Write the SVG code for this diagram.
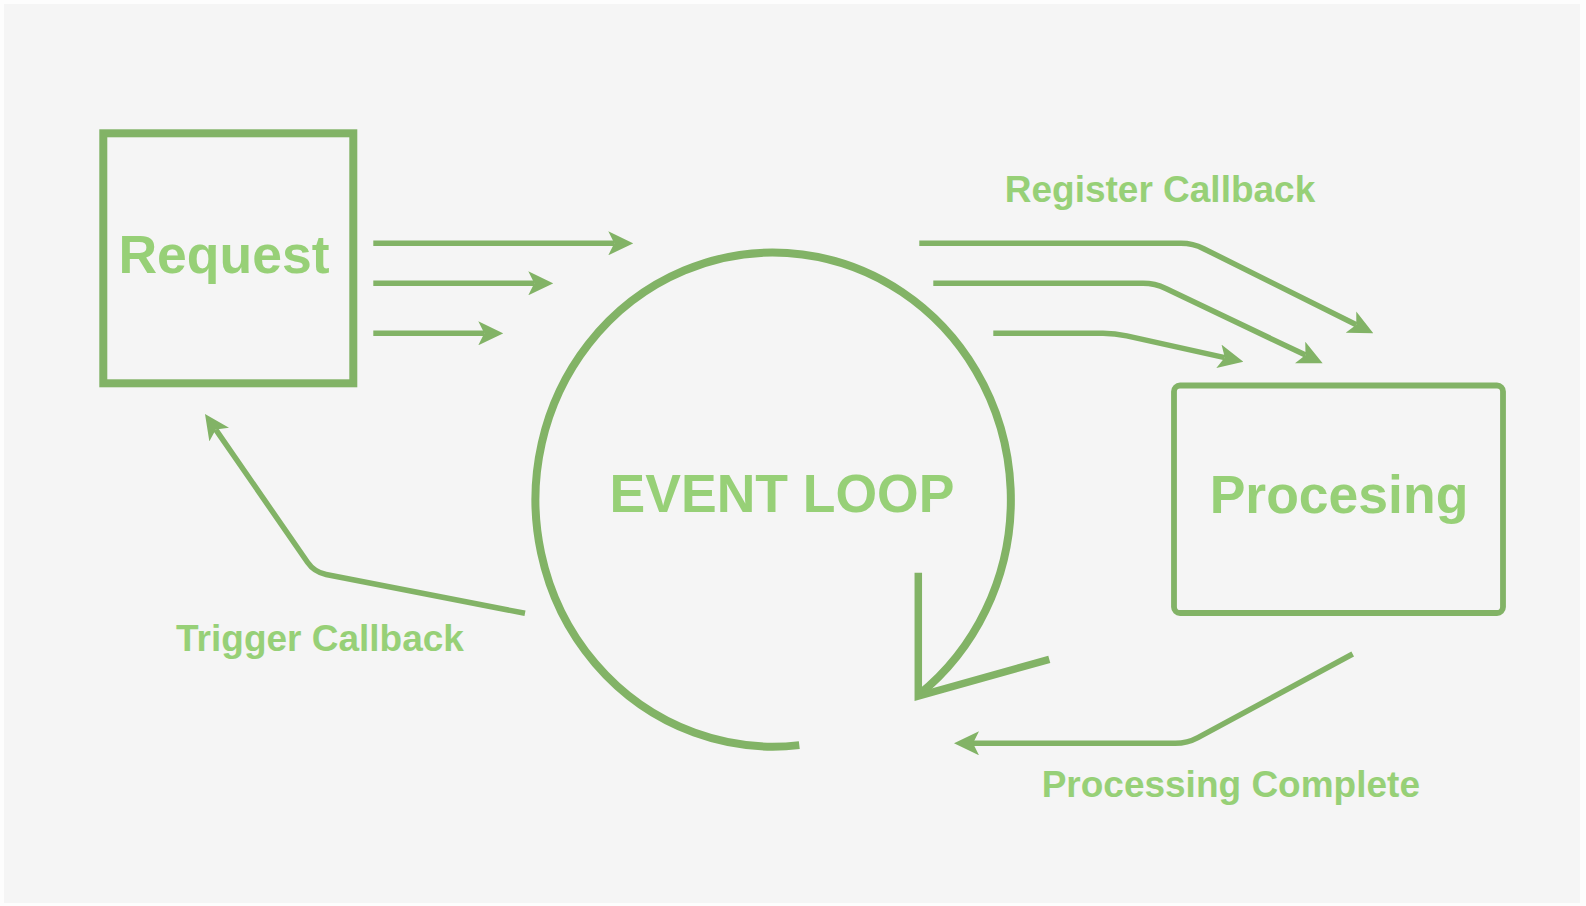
<svg xmlns="http://www.w3.org/2000/svg" width="1586" height="906" viewBox="0 0 1586 906">
  <style>
    .node { fill: none; stroke: #82b366; }
    .label { font-family: "Liberation Sans", Arial, sans-serif; font-weight: bold; fill: #97d077; text-anchor: middle; }
    .big { font-size: 53.5px; }
    .small { font-size: 37px; }
    .conn { fill: none; stroke: #82b366; stroke-width: 5.5; }
  </style>
  <defs>
    <marker id="arrow" markerUnits="userSpaceOnUse" viewBox="0 0 25 24" markerWidth="25" markerHeight="24" refX="6" refY="12" orient="auto">
      <path d="M0,0 L25,12 L0,24 L6,12 Z" fill="#82b366"/>
    </marker>
  </defs>
  <rect x="0" y="0" width="1586" height="906" fill="#fdfdfd"/>
  <rect x="4" y="4" width="1576" height="899" fill="#f5f5f5"/>

  <g id="request">
    <rect class="node" x="103.3" y="133.3" width="250" height="250" stroke-width="8"/>
    <text class="label big" x="224" y="273.3">Request</text>
  </g>

  <g id="processing">
    <rect class="node" x="1174" y="385.5" width="329" height="227.5" rx="6" stroke-width="5.8"/>
    <text class="label big" x="1339" y="513.3">Procesing</text>
  </g>

  <g id="event-loop">
    <path class="node" stroke-width="8" d="M799.3,745.1 A237.7,247 0 1 1 918.3,695.2"/>
    <path class="node" stroke-width="7.5" stroke-linejoin="miter" d="M918.3,572.7 L918.3,696 L1049.3,659.3"/>
    <text class="label big" x="782" y="512.3">EVENT LOOP</text>
  </g>

  <g id="connectors">
    <path class="conn" d="M373.3,243.3 L614.3,243.3" marker-end="url(#arrow)"/>
    <path class="conn" d="M373.3,283.3 L534.3,283.3" marker-end="url(#arrow)"/>
    <path class="conn" d="M373.3,333.3 L484.3,333.3" marker-end="url(#arrow)"/>

    <path class="conn" d="M919.3,243.3 L1181,243.3 Q1193,243.3 1203.7,248.7 L1356.3,324.8" marker-end="url(#arrow)"/>
    <path class="conn" d="M933.3,283.3 L1143,283.3 Q1155,283.3 1165.8,288.5 L1305.5,355.1" marker-end="url(#arrow)"/>
    <path class="conn" d="M993.3,333.3 L1103,333.3 Q1115,333.3 1126.7,335.9 L1224.8,357.6" marker-end="url(#arrow)"/>

    <path class="conn" d="M1352.7,654 L1197.9,737.6 Q1187.3,743.3 1175.3,743.3 L973,743.3" marker-end="url(#arrow)"/>

    <path class="conn" d="M525,613.3 L326.1,574.5 Q314.3,572.2 307.5,562.3 L215.8,429.6" marker-end="url(#arrow)"/>
  </g>

  <g id="labels">
    <text class="label small" x="1160" y="202.3">Register Callback</text>
    <text class="label small" x="320" y="650.7">Trigger Callback</text>
    <text class="label small" x="1230.8" y="796.7">Processing Complete</text>
  </g>
</svg>
